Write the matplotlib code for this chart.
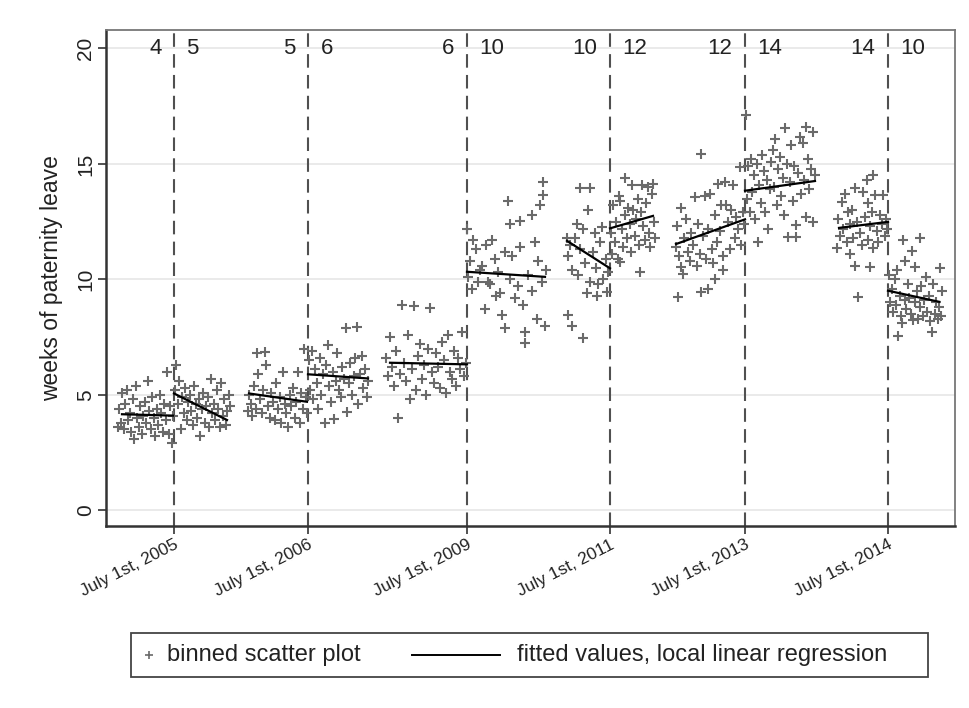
import matplotlib
matplotlib.use("Agg")
import matplotlib.pyplot as plt
from matplotlib.lines import Line2D
from matplotlib.patches import Rectangle

plt.rcParams['font.family'] = ['Liberation Sans', 'DejaVu Sans']

# ---------------- data ----------------
cutoff_x = [174, 308, 467, 610, 745, 888]
cutoff_labels = ["July 1st, 2005", "July 1st, 2006", "July 1st, 2009",
                 "July 1st, 2011", "July 1st, 2013", "July 1st, 2014"]
weeks_before = [4, 5, 6, 10, 12, 14]
weeks_after = [5, 6, 10, 12, 14, 10]

x1 = [118,119,121,122,124,125,127,128,130,131,133,134,136,137,139,140,142,143,145,146,148,149,151,152,154,155,157,158,160,161,163,164,166,167,169,170,172,173]
y1 = [3.6,4.4,3.8,5.1,3.5,4.6,5.2,3.9,4.2,3.4,4.8,3.1,5.4,4.0,3.6,4.5,3.3,4.1,4.7,3.8,5.6,4.3,3.5,4.9,4.0,3.2,4.4,3.7,5.0,4.2,3.4,4.6,3.9,6.0,3.3,4.5,2.9,4.1]
x2 = [175,176,178,179,181,182,184,185,187,188,190,191,193,194,196,197,199,200,202,203,205,206,208,209,211,212,214,215,217,218,220,221,223,224,226,227,229,230]
y2 = [5.2,6.3,4.6,5.6,3.5,4.9,4.2,5.3,3.9,4.7,5.0,4.3,3.7,5.4,4.6,4.0,4.8,3.2,4.4,5.1,3.8,4.5,4.9,3.6,5.7,4.2,4.6,3.9,5.2,4.4,3.6,5.5,4.1,4.8,3.7,4.3,5.0,4.5]
x3 = [248,249,251,252,254,256,257,258,260,262,263,265,266,268,270,271,273,275,276,278,280,281,283,285,286,288,290,291,293,295,296,298,300,301,303,304,306,307]
y3 = [4.3,5.0,4.6,4.1,5.4,4.4,6.8,5.9,4.8,4.2,5.2,6.85,6.3,4.5,4.0,5.1,4.7,3.9,5.5,4.4,4.9,3.8,6.0,4.6,4.2,3.6,5.0,4.5,5.3,4.0,4.7,6.0,3.8,5.1,4.4,7.0,4.9,4.2]
x4 = [309,310,312,313,315,317,318,320,321,323,325,326,328,329,331,333,334,336,337,339,341,342,344,346,347,349,350,352,354,355,357,358,360,362,363,365,367,368]
y4 = [6.5,5.2,6.9,4.8,6.1,5.5,4.4,6.6,5.0,5.9,3.8,6.3,7.15,5.4,4.7,6.0,3.95,5.6,6.8,5.2,4.9,6.2,5.7,7.9,4.25,5.5,6.4,5.0,5.8,6.6,7.95,4.6,5.9,6.7,5.3,6.1,4.9,5.6]
x5 = [386,388,390,392,394,396,398,400,402,404,406,408,410,412,414,416,418,420,422,424,426,428,430,432,434,436,438,440,442,444,446,448,450,452,454,456,458,460,462,464,466]
y5 = [6.6,5.8,7.5,6.2,5.4,6.9,4.0,5.9,8.9,6.4,5.6,7.6,4.8,6.1,8.85,5.2,6.7,7.2,5.7,6.3,5.0,7.0,8.75,6.0,5.5,6.8,6.2,5.3,7.3,6.5,5.1,7.6,6.0,5.7,6.9,5.4,6.6,6.1,7.7,5.8,6.4]
x6 = [467,468,470,472,473,476,478,480,482,485,486,488,490,492,495,496,498,500,502,505,505,508,510,510,512,515,518,520,520,523,525,525,528,532,532,535,537,538,540,542,543,543,545,546]
y6 = [12.2,10.1,10.8,9.6,11.7,11.3,9.9,10.4,10.6,8.7,11.5,9.9,9.8,11.7,10.9,9.3,10.3,9.4,8.45,11.2,7.9,13.4,10.0,12.4,11.0,9.2,9.7,12.55,11.4,8.9,7.7,7.25,10.2,12.8,9.5,11.6,8.3,10.8,13.2,9.9,14.2,13.65,8.0,10.4]
x7 = [567,568,568,570,572,572,575,577,578,580,580,583,583,585,587,588,590,590,593,595,596,597,598,600,602,603,606,607,608]
y7 = [11.8,8.45,11.0,11.5,10.4,8.0,11.8,12.4,10.2,13.95,11.3,12.2,7.45,10.7,9.4,13.0,13.95,9.9,11.2,12.0,10.5,9.3,9.8,11.6,12.25,10.0,10.9,9.45,10.3]
x8 = [611,612,613,615,616,618,619,620,620,622,623,625,625,627,628,630,631,632,633,635,636,638,639,640,641,642,643,645,646,648,649,650,652,653,654,655]
y8 = [12.0,11.1,13.2,11.6,12.5,10.9,13.6,13.4,10.75,12.2,11.4,14.4,12.8,11.8,13.1,12.4,11.2,14.1,13.0,11.9,12.6,13.5,11.5,10.3,12.9,14.1,12.3,11.7,13.3,14.0,12.0,11.4,13.7,14.15,12.5,11.8]
x9 = [676,677,678,679,681,681,683,684,686,688,690,691,693,695,697,698,700,701,701,703,705,706,708,708,710,712,713,715,715,717,718,720,721,723,723,725,726,728,730,731,733,735,736,738,740,741,743,744]
y9 = [11.4,12.3,9.25,11.0,13.1,10.55,10.25,11.8,12.6,11.2,10.8,12.0,11.5,13.55,10.6,12.4,11.1,15.45,9.45,11.9,13.6,10.9,9.6,12.2,13.7,11.3,10.7,10.0,12.8,11.6,14.15,12.1,13.2,10.4,11.0,14.2,13.2,12.5,11.3,13.0,14.1,11.8,12.7,12.2,14.85,11.5,12.9,12.4]
x10 = [746,747,748,750,751,752,754,755,757,758,759,761,762,764,765,767,768,770,771,773,774,775,777,778,780,781,783,784,785,787,788,790,791,793,794,796,796,798,800,801,803,804,806,806,808,809,811,813,813,815]
y10 = [17.1,13.5,14.9,12.9,15.2,13.8,14.5,12.6,15.0,11.6,14.1,13.3,15.4,14.7,12.9,14.3,12.2,13.9,15.1,15.6,14.0,16.1,13.2,14.8,15.3,13.6,14.4,12.8,16.55,15.0,11.85,14.2,15.8,13.4,14.9,11.85,12.35,14.6,16.15,13.7,15.9,14.3,16.6,12.7,15.2,13.9,14.8,16.4,12.5,14.5]
x11 = [837,838,840,842,843,845,847,848,850,850,852,853,855,855,857,858,860,862,863,865,867,868,868,870,870,872,873,873,875,877,878,880,882,883,885,886,887]
y11 = [11.35,12.6,11.9,13.35,12.2,13.7,11.6,12.9,11.1,12.4,13.0,11.8,13.95,10.6,12.5,9.25,12.0,11.5,13.8,12.7,14.3,13.3,11.7,10.55,12.3,12.9,14.5,11.35,13.65,12.1,11.6,12.8,12.4,13.65,11.9,12.6,12.2]
x12 = [889,890,892,893,895,896,897,898,900,901,902,903,905,905,906,908,909,911,912,913,915,915,917,918,920,920,921,923,924,926,927,929,930,932,933,935,936,938,939,940,941,942]
y12 = [10.2,9.0,9.6,8.6,10.0,8.9,10.4,7.55,9.3,8.4,8.1,11.7,10.8,9.1,8.7,9.8,9.2,8.5,11.25,8.25,10.55,9.0,9.5,8.3,11.8,8.8,9.7,8.4,9.1,10.1,8.6,9.3,8.2,7.7,9.8,8.5,9.0,8.3,8.8,10.5,8.4,9.5]

scatter_x = [x1, x2, x3, x4, x5, x6, x7, x8, x9, x10, x11, x12]
scatter_y = [y1, y2, y3, y4, y5, y6, y7, y8, y9, y10, y11, y12]

fit_start_x = [122, 174, 249, 308, 390, 467, 567, 610, 676, 745, 839, 888]
fit_end_x = [173, 227, 307, 368, 467, 545, 610, 653, 745, 815, 888, 939]
fit_start_y = [4.16, 5.06, 5.06, 5.89, 6.39, 10.33, 11.67, 12.21, 11.53, 13.84, 12.23, 9.51]
fit_end_y = [4.10, 3.91, 4.70, 5.71, 6.32, 10.11, 10.48, 12.75, 12.60, 14.26, 12.49, 9.03]

y_ticks = [0, 5, 10, 15, 20]
legend_labels = ['binned scatter plot', 'fitted values, local linear regression']

# ---------------- figure ----------------
W, H = 970, 708
fig = plt.figure(figsize=(W/100, H/100), dpi=100)
ax = fig.add_axes([106/W, 1-526/H, (955-106)/W, (526-30)/H])
ax.set_xlim(106, 955)
ax.set_ylim(-0.68, 20.8)

for yt in y_ticks:
    ax.axhline(yt, color='#e6e6e6', lw=1.2, zorder=0)

scatter_col = '#6a6a6a'
for xs, ys in zip(scatter_x, scatter_y):
    ax.plot(xs, ys, linestyle='none', marker='+', markersize=7.5, mew=1.5,
            color=scatter_col, zorder=2)

for xa, xb, ya, yb in zip(fit_start_x, fit_end_x, fit_start_y, fit_end_y):
    ax.plot([xa, xb], [ya, yb], color='black', lw=1.6, zorder=3)

for cx in cutoff_x:
    ax.axvline(cx, color='#505050', lw=1.5, dashes=(6.5, 3.5), zorder=1)

for cx, wb, wa in zip(cutoff_x, weeks_before, weeks_after):
    ax.annotate(str(wb), xy=(cx, 20.0), xytext=(-9, 0), textcoords='offset points',
                ha='right', va='center', fontsize=16, color='#222222')
    ax.annotate(str(wa), xy=(cx, 20.0), xytext=(9, 0), textcoords='offset points',
                ha='left', va='center', fontsize=16, color='#222222')

ax.set_yticks(y_ticks)
ax.set_yticklabels([str(v) for v in y_ticks], rotation=90, va='center', fontsize=15)
ax.set_xticks(cutoff_x)
ax.set_xticklabels(cutoff_labels, rotation=27, ha='right', va='top',
                   rotation_mode='anchor', fontsize=12.5)
ax.tick_params(axis='both', direction='out', length=6, width=1.2, colors='#333333',
               labelcolor='#222222')
ax.tick_params(axis='x', pad=2)
ax.tick_params(axis='y', pad=2)

ax.set_ylabel('weeks of paternity leave', fontsize=16.5, color='#222222', labelpad=9)

for s in ['left', 'bottom']:
    ax.spines[s].set_color('#333333')
    ax.spines[s].set_linewidth(1.8)
for s in ['top', 'right']:
    ax.spines[s].set_color('#777777')
    ax.spines[s].set_linewidth(1.3)

# ---------------- legend box (drawn in figure pixels) ----------------
def fx(px):
    return px / W

def fy(py):
    return 1 - py / H

fig.patches.append(Rectangle((fx(131), fy(677)), fx(928) - fx(131), fy(633) - fy(677),
                             transform=fig.transFigure, facecolor='white',
                             edgecolor='#444444', lw=1.3, zorder=5))
ly = fy(655)
fig.add_artist(Line2D([fx(149)], [ly], transform=fig.transFigure, linestyle='none',
                      marker='+', markersize=6, mew=1.2, color=scatter_col, zorder=6))
fig.text(fx(167), ly, legend_labels[0], ha='left', va='center', fontsize=17,
         color='#222222', zorder=6)
fig.add_artist(Line2D([fx(412), fx(500)], [ly, ly], transform=fig.transFigure,
                      color='black', lw=1.4, zorder=6))
fig.text(fx(517), ly, legend_labels[1], ha='left', va='center', fontsize=17,
         color='#222222', zorder=6)

fig.savefig('out.png', dpi=100, facecolor='white')
